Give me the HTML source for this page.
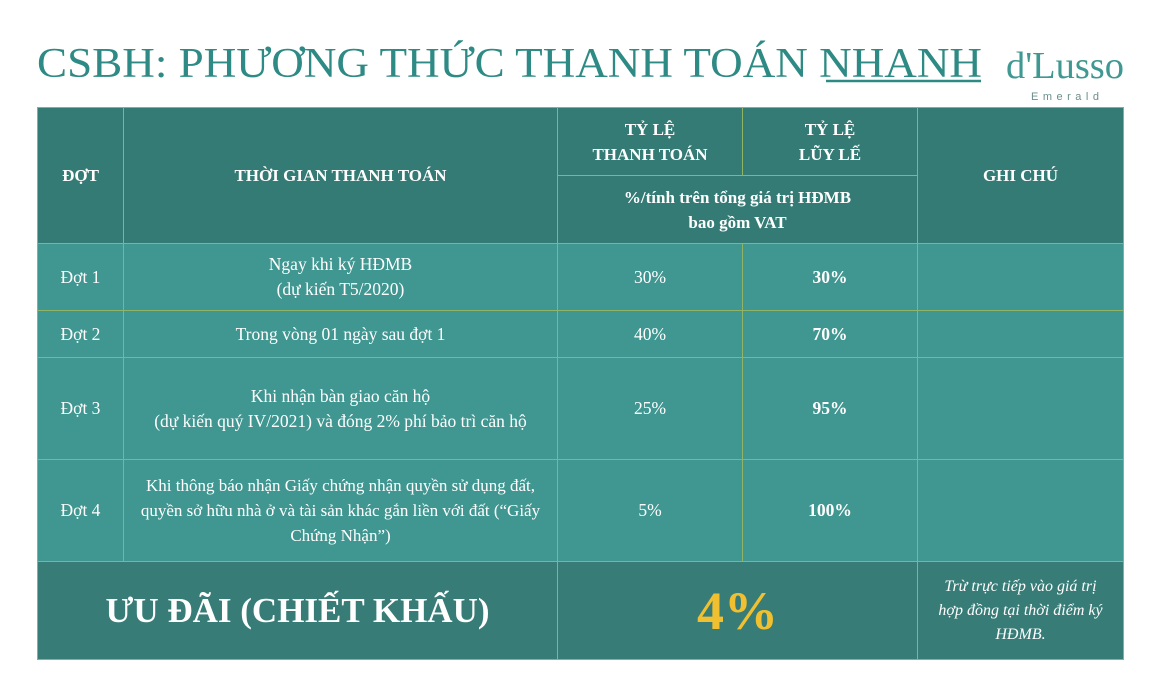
<!DOCTYPE html>
<html><head><meta charset="utf-8">
<style>
body{margin:0;width:1160px;height:676px;background:#fff;position:relative;overflow:hidden;font-family:"Liberation Serif","Noto Serif CJK SC",serif;}
.c{position:absolute;box-sizing:border-box;display:flex;align-items:center;justify-content:center;text-align:center;color:#fff;border:1px solid #8fb465;font-size:17.5px;line-height:25px;white-space:nowrap;}
.h{background:#347b76;font-weight:bold;font-size:17px;}
.r{background:#409690;}
.f{background:#377c77;}
.b{font-weight:bold;}
</style></head><body>
<svg style="position:absolute;left:0;top:0" width="1160" height="110">
<text x="37" y="77" textLength="945" lengthAdjust="spacingAndGlyphs" font-family="Liberation Serif, serif" font-size="42" fill="#2e8a84">CSBH: PHƯƠNG THỨC THANH TOÁN NHANH</text>
<line x1="826" y1="81" x2="981" y2="81" stroke="#2e8a84" stroke-width="2.5"/>
<text x="1006" y="78" textLength="118" lengthAdjust="spacingAndGlyphs" font-family="Liberation Serif, serif" font-size="38" fill="#3f9892">d'Lusso</text>
<text x="1031" y="100" textLength="68" lengthAdjust="spacing" font-family="Liberation Sans, sans-serif" font-size="11" fill="#6a8f8c">Emerald</text>
</svg>
<div>
<div class="c h" style="left:37px;top:107px;width:87px;height:137px">ĐỢT</div>
<div class="c h" style="left:123px;top:107px;width:435px;height:137px">THỜI GIAN THANH TOÁN</div>
<div class="c h" style="left:557px;top:107px;width:186px;height:69px">TỶ LỆ<br>THANH TOÁN</div>
<div class="c h" style="left:742px;top:107px;width:176px;height:69px">TỶ LỆ<br>LŨY LẾ</div>
<div class="c h" style="left:557px;top:175px;width:361px;height:69px">%/tính trên tổng giá trị HĐMB<br>bao gồm VAT</div>
<div class="c h" style="left:917px;top:107px;width:207px;height:137px">GHI CHÚ</div>

<div class="c r" style="left:37px;top:243px;width:87px;height:68px">Đợt 1</div>
<div class="c r" style="left:123px;top:243px;width:435px;height:68px">Ngay khi ký HĐMB<br>(dự kiến T5/2020)</div>
<div class="c r" style="left:557px;top:243px;width:186px;height:68px">30%</div>
<div class="c r b" style="left:742px;top:243px;width:176px;height:68px">30%</div>
<div class="c r" style="left:917px;top:243px;width:207px;height:68px"></div>

<div class="c r" style="left:37px;top:310px;width:87px;height:48px">Đợt 2</div>
<div class="c r" style="left:123px;top:310px;width:435px;height:48px">Trong vòng 01 ngày sau đợt 1</div>
<div class="c r" style="left:557px;top:310px;width:186px;height:48px">40%</div>
<div class="c r b" style="left:742px;top:310px;width:176px;height:48px">70%</div>
<div class="c r" style="left:917px;top:310px;width:207px;height:48px"></div>

<div class="c r" style="left:37px;top:357px;width:87px;height:103px">Đợt 3</div>
<div class="c r" style="left:123px;top:357px;width:435px;height:103px">Khi nhận bàn giao căn hộ<br>(dự kiến quý IV/2021) và đóng 2% phí bảo trì căn hộ</div>
<div class="c r" style="left:557px;top:357px;width:186px;height:103px">25%</div>
<div class="c r b" style="left:742px;top:357px;width:176px;height:103px">95%</div>
<div class="c r" style="left:917px;top:357px;width:207px;height:103px"></div>

<div class="c r" style="left:37px;top:459px;width:87px;height:103px">Đợt 4</div>
<div class="c r" style="left:123px;top:459px;width:435px;height:103px;font-size:17px">Khi thông báo nhận Giấy chứng nhận quyền sử dụng đất,<br>quyền sở hữu nhà ở và tài sản khác gắn liền với đất (“Giấy<br>Chứng Nhận”)</div>
<div class="c r" style="left:557px;top:459px;width:186px;height:103px">5%</div>
<div class="c r b" style="left:742px;top:459px;width:176px;height:103px">100%</div>
<div class="c r" style="left:917px;top:459px;width:207px;height:103px"></div>

<div class="c f b" style="left:37px;top:561px;width:521px;height:99px;font-size:35px;line-height:40px">ƯU ĐÃI (CHIẾT KHẤU)</div>
<div class="c f b" style="left:557px;top:561px;width:361px;height:99px;font-size:54px;line-height:60px;color:#f0c030">4%</div>
<div class="c f" style="left:917px;top:561px;width:207px;height:99px;font-style:italic;font-size:16px;line-height:24px">Trừ trực tiếp vào giá trị<br>hợp đồng tại thời điểm ký<br>HĐMB.</div>
</div>
</body></html>
